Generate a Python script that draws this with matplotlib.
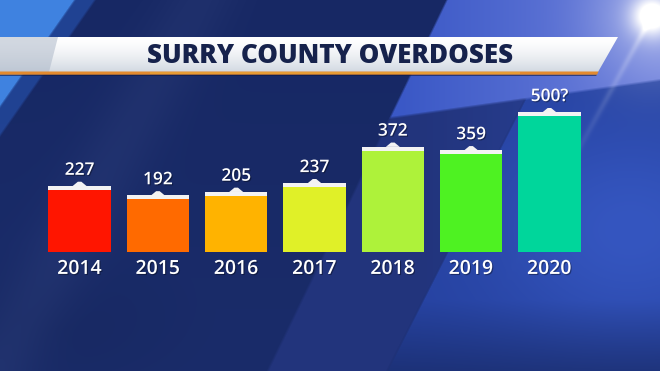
import numpy as np
import matplotlib
matplotlib.use("Agg")
import matplotlib.pyplot as plt
from matplotlib.patches import Polygon
import matplotlib.colors as mcolors
import matplotlib.patheffects as pe

# ---------------- data ----------------
title = "SURRY COUNTY OVERDOSES"
years = ["2014", "2015", "2016", "2017", "2018", "2019", "2020"]
values = [227, 192, 205, 237, 372, 359, 500]
value_labels = ["227", "192", "205", "237", "372", "359", "500?"]
bar_colors = ["#ff1500", "#ff6a00", "#ffb300", "#e0f028", "#aef23a", "#4ef222", "#00d69b"]

# ---------------- figure ----------------
W, H = 660, 371
fig = plt.figure(figsize=(6.6, 3.71), dpi=100)

# background layer in pixel coordinates (decoration only)
bg = fig.add_axes([0, 0, 1, 1])
bg.set_xlim(0, W)
bg.set_ylim(H, 0)
bg.axis("off")

yy, xx = np.mgrid[0:H, 0:W].astype(float) + 0.5


def rgb(h):
    return np.array(mcolors.to_rgb(h))


def soft(d, s=2.0):
    return np.clip(d / s + 0.5, 0, 1)[..., None]


t = (yy / H)[..., None]
img = rgb("#172864") * (1 - t) + rgb("#1a2c6a") * t
# darker bottom-left
d = np.hypot((xx - 60) / 160, (yy - 330) / 90)[..., None]
img = img * (1 - 0.25 * np.clip(1 - d, 0, 1)) + rgb("#11204f") * 0.25 * np.clip(1 - d, 0, 1)
# faint lighter diagonal on the left
band = np.exp(-((xx + 0.55 * yy - 200) / 40) ** 2)[..., None]
img = img + 0.03 * band

# lower right brighter panel
edge1 = 447 - 0.508 * (yy - 253)
m1 = soft(xx - edge1, 3)
g1 = np.exp(-(((xx - 630) / 140) ** 2 + ((yy - 230) / 110) ** 2))[..., None]
col1 = rgb("#2642a0") * (1 - g1) + rgb("#3556c0") * g1
col1 = col1 * (1 - 0.25 * np.clip((yy - 300) / 71, 0, 1))[..., None]
img = img * (1 - m1) + col1 * m1

# middle-blue zone below the upper wedge on the right
wedge_bottom = 118 - (xx - 390) * 38 / 270
m_mid = soft(xx - (447 - 0.483 * yy), 3) * soft(yy - wedge_bottom + 0, 3) * (1 - m1)
tx = np.clip((xx - 420) / 240, 0, 1)[..., None]
col_mid = rgb("#22347c") * (1 - tx) + rgb("#2c46a0") * tx
img = img * (1 - m_mid) + col_mid * m_mid

# upper wedge (bright)
edge2 = 447 - 0.483 * yy
m2 = soft(xx - edge2, 2.5) * soft(wedge_bottom - yy, 3)
tx2 = np.clip((xx - 400) / 260, 0, 1)[..., None]
col2 = rgb("#3a58c6") * (1 - tx2) + rgb("#6e80dc") * tx2
img = img * (1 - m2) + col2 * m2

# top-left light stripe
edge3 = 75 - 0.70 * yy
m3 = soft(edge3 - xx, 3)
col3 = rgb("#3f82e0")
img = img * (1 - m3) + col3 * m3
edge4 = 95 - 0.70 * yy
m4 = soft(edge4 - xx, 3) * (1 - m3)
img = img * (1 - 0.5 * m4) + rgb("#2a5cc0") * 0.5 * m4

# glow top-right
gd = np.hypot(xx - 652, yy - 16)
glow = (0.95 * np.exp(-(gd / 20) ** 2) + 0.35 * np.exp(-(gd / 60) ** 2))[..., None]
ray = np.exp(-((xx - 652 + 0.55 * (yy - 16)) / 3.5) ** 2) * np.exp(-(gd / 140) ** 2)
glow = np.clip(glow + 0.18 * ray[..., None] * (yy > 16)[..., None], 0, 1)
img = img * (1 - glow) + np.ones(3) * glow

img = np.clip(img, 0, 1)
bg.imshow(img, extent=[0, W, H, 0], aspect="auto", interpolation="bilinear", zorder=0)

# title banner
banner = Polygon([(0, 37), (618, 37), (598, 72), (0, 72)], closed=True,
                 facecolor="none", edgecolor="none", zorder=2)
bg.add_patch(banner)
grad = np.linspace(0, 1, 64)[:, None]
bimg = np.ones((64, 2, 3)) * rgb("#ffffff") * (1 - grad[..., None] ** 1.5) \
    + np.ones((64, 2, 3)) * rgb("#d2d9e2") * (grad[..., None] ** 1.5)
bim = bg.imshow(bimg, extent=[0, 620, 72, 37], aspect="auto", zorder=2, interpolation="bilinear")
bim.set_clip_path(banner)
bg.add_patch(Polygon([(0, 37), (58, 37), (49, 72), (0, 72)], closed=True,
                     facecolor="#aeb9c9", alpha=0.55, edgecolor="none", zorder=3))
bg.add_patch(Polygon([(0, 71.5), (598.5, 71.5), (597, 74.8), (0, 74.8)], closed=True,
                     facecolor="#e38a2e", edgecolor="none", zorder=3))
bg.add_patch(Polygon([(150, 72.3), (520, 72.3), (520, 73.6), (150, 73.6)], closed=True,
                     facecolor="#f0c040", alpha=0.35, edgecolor="none", zorder=3))
bg.add_patch(Polygon([(0, 74.8), (597, 74.8), (596, 76), (0, 76)], closed=True,
                     facecolor="#0e1a48", alpha=0.6, edgecolor="none", zorder=3))

bg.text(330, 63.2, title, ha="center", va="baseline", fontsize=18.7,
        fontfamily="Open Sans", fontweight="heavy", color="#16224c", zorder=4)

# ---------------- chart axes ----------------
PX_PER_UNIT = 0.27          # vertical pixels per data unit
ZERO_PX = 247.2             # pixel row of value 0
X0_PX, STEP_PX = 79.6, 78.3  # first bar centre and spacing in pixels

ax = fig.add_axes([0, 0, 1, 1])
ax.patch.set_alpha(0)
ax.axis("off")
ax.set_xlim((0 - X0_PX) / STEP_PX, (W - X0_PX) / STEP_PX)
ax.set_ylim((ZERO_PX - H) / PX_PER_UNIT, ZERO_PX / PX_PER_UNIT)

BASE = -4.5 / PX_PER_UNIT         # bars start slightly below zero line
CAP = 4.0 / PX_PER_UNIT           # white cap thickness
TRI_H = 4.2 / PX_PER_UNIT         # height of the small triangle
TRI_HW = 7.0 / STEP_PX            # half width of the triangle
BAR_W = 62.3 / STEP_PX

x = np.arange(len(years))
vals = np.array(values, dtype=float)

ax.bar(x, vals - CAP - BASE, bottom=BASE, width=BAR_W, color=bar_colors,
       edgecolor="none", zorder=3)
ax.bar(x, np.full_like(vals, CAP), bottom=vals - CAP, width=BAR_W,
       color="#f3f3f3", edgecolor="none", zorder=4)
for xi, v in zip(x, vals):
    ax.add_patch(Polygon([(xi - TRI_HW, v - 0.5), (xi - TRI_HW * 0.25, v + TRI_H),
                          (xi + TRI_HW * 0.25, v + TRI_H), (xi + TRI_HW, v - 0.5)],
                         closed=True, facecolor="#f3f3f3", edgecolor="none", zorder=4))

shadow = [pe.SimplePatchShadow(offset=(0.8, -0.8), alpha=0.35, shadow_rgbFace="#000000"), pe.Normal()]

for xi, v, lab in zip(x, vals, value_labels):
    ax.annotate(lab, (xi, v), xytext=(0, 8.0), textcoords="offset points",
                ha="center", va="baseline", fontsize=12.5, fontfamily="Open Sans",
                fontweight="semibold", color="white", zorder=5, path_effects=shadow)

for xi, yr in zip(x, years):
    ax.annotate(yr, (xi, BASE), xytext=(0, -16.0), textcoords="offset points",
                ha="center", va="baseline", fontsize=14, fontfamily="Open Sans",
                fontweight="semibold", color="white", zorder=5, path_effects=shadow)

fig.savefig("out.png", dpi=100)
